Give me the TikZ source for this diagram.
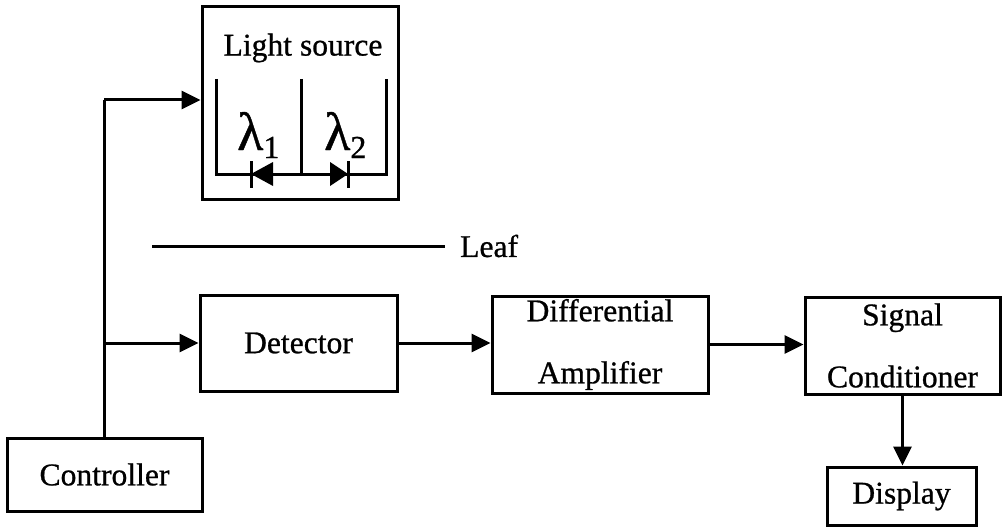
\documentclass[tikz,border=0pt]{standalone}
\usepackage{fontspec}
\setmainfont{Liberation Serif}
\newfontfamily\heavyserif{Liberation Serif}[FakeBold=0.8]
\usetikzlibrary{arrows.meta}
\tikzset{
  blk/.style={draw, line width=3pt, rectangle, inner sep=0pt, align=center,
    font=\heavyserif\fontsize{31.6}{62}\selectfont},
  txt/.style={inner sep=0pt, font=\heavyserif\fontsize{31.6}{38}\selectfont},
  wire/.style={line width=3pt},
  arr/.style={line width=3pt, -{Triangle[length=19pt,width=18pt]}},
  lam/.style={inner sep=0pt, anchor=base west, font=\heavyserif}
}
\begin{document}
\begin{tikzpicture}[x=1pt,y=-1pt]
\useasboundingbox (0,0) rectangle (1002,527);
% blocks
\node[blk, minimum width=196pt, minimum height=192pt] (ls) at (300,103) {};
\node[txt] (lstext) at (303,48) {Light source};
\node[blk, minimum width=195pt, minimum height=73pt] (ctrl) at (104.5,474.5) {Controller};
\node[blk, minimum width=197pt, minimum height=96pt] (det) at (298.5,343) {Detector};
\node[blk, minimum width=216pt, minimum height=97pt] (diff) at (600,344.5) {Differential\\Amplifier};
\node[blk, minimum width=195pt, minimum height=97pt] (sig) at (902.5,345.5) {Signal\\Conditioner};
\node[blk, minimum width=149pt, minimum height=58pt] (disp) at (901.5,496) {Display};
% leaf
\coordinate (lf1) at (152,246);
\coordinate (lf2) at (445,246);
\draw[wire] (lf1) -- (lf2);
\node[txt, anchor=west] (leaf) at (460,246) {Leaf};
% light source internals
\coordinate (a1) at (216,79);
\coordinate (a2) at (216,174);
\coordinate (b1) at (301,79);
\coordinate (b2) at (301,174);
\coordinate (c1) at (386,79);
\coordinate (c2) at (386,174);
\draw[wire] (a1) -- (a2) -- (c2) -- (c1);
\draw[wire] (b1) -- (b2);
% diode 1 (pointing left)
\fill (251,174) -- (273,162) -- (273,186) -- cycle;
\draw[wire] (251,161) -- (251,188);
% diode 2 (pointing right)
\fill (348,174) -- (330,162) -- (330,186) -- cycle;
\draw[wire] (348,161) -- (348,188);
% lambdas
\node[lam] (l1) at (237,150) {\fontsize{54}{54}\selectfont λ\raisebox{-8pt}{\fontsize{32}{32}\selectfont 1}};
\node[lam] (l2) at (324,150) {\fontsize{54}{54}\selectfont λ\raisebox{-8pt}{\fontsize{32}{32}\selectfont 2}};
% connectors
\coordinate (j1) at (104,100);
\coordinate (j2) at (104,343);
\draw[wire] (ctrl.north -| j1) -- (j1);
\draw[arr] (j1) -- (ls.west |- j1);
\draw[arr] (j2) -- (det.west |- j2);
\draw[arr] (det.east) -- (diff.west |- det.east);
\draw[arr] (diff.east) -- (sig.west |- diff.east);
\draw[arr] (sig.south) -- (disp.north -| sig.south);
\end{tikzpicture}
\end{document}
